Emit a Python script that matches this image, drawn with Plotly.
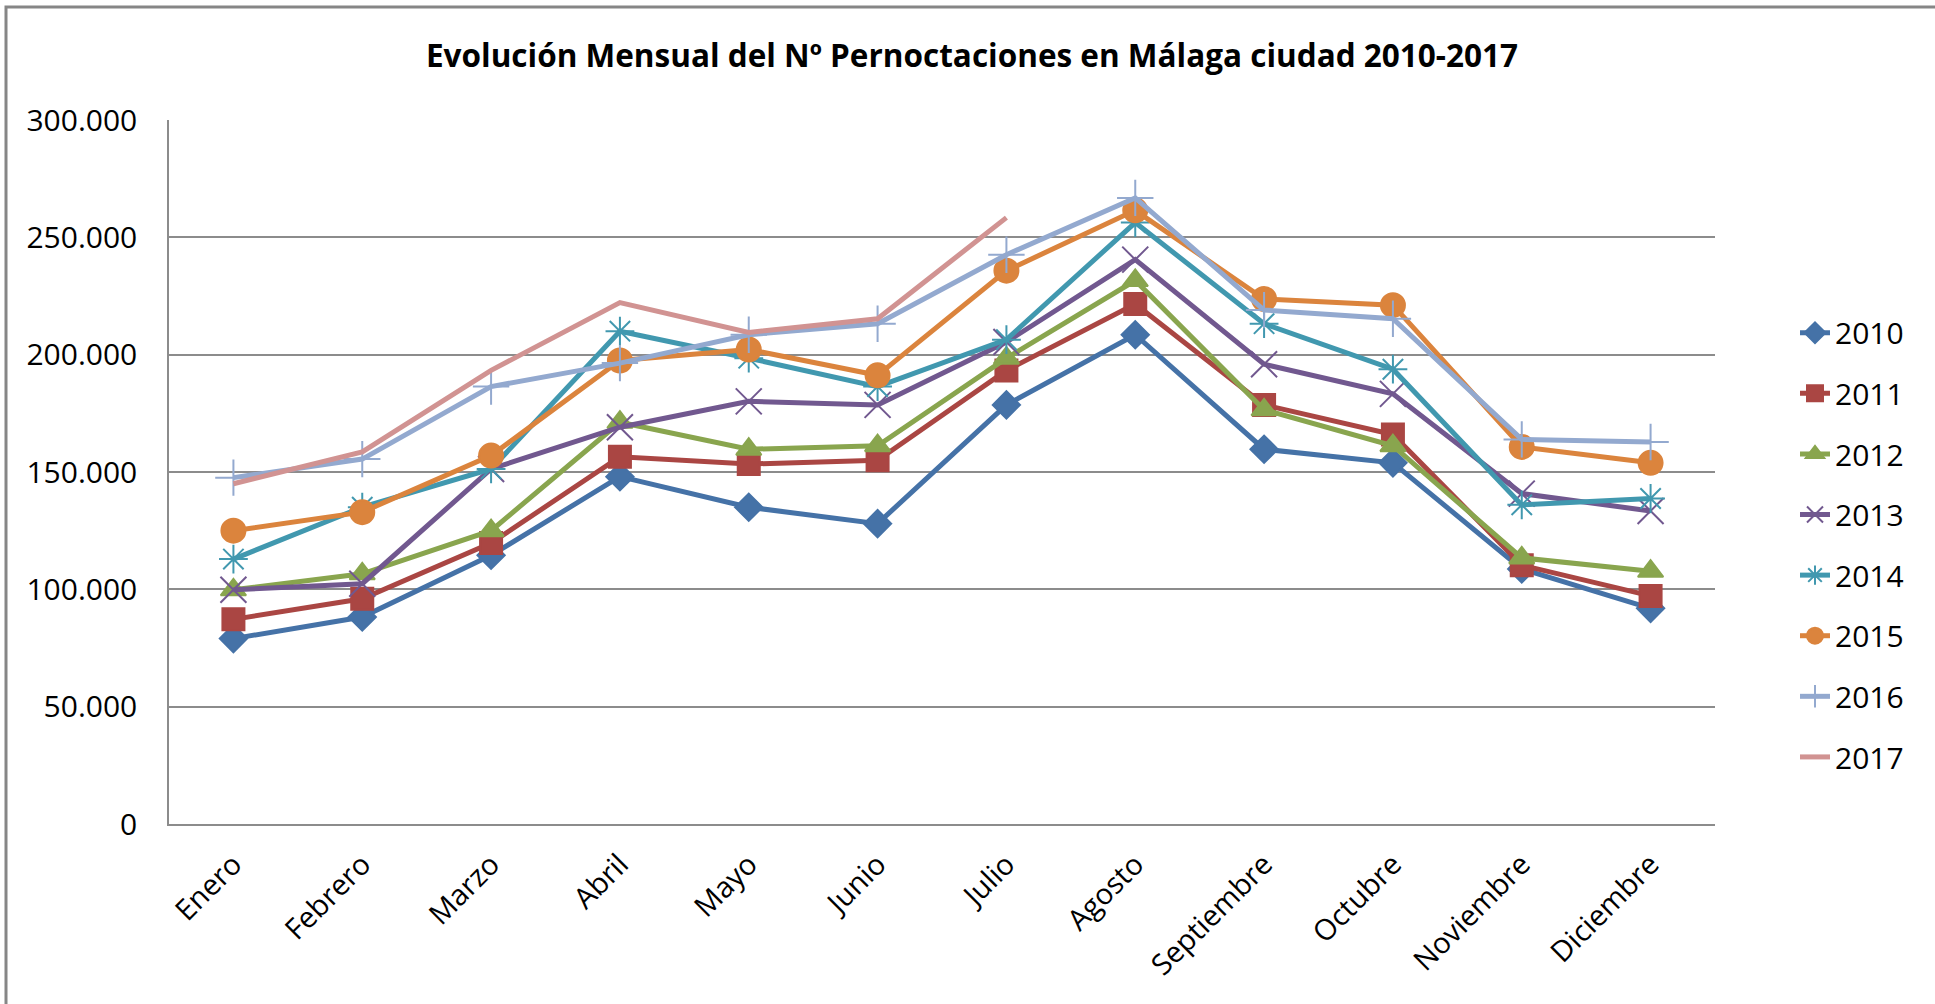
import plotly.graph_objects as go

months = ["Enero", "Febrero", "Marzo", "Abril", "Mayo", "Junio", "Julio",
          "Agosto", "Septiembre", "Octubre", "Noviembre", "Diciembre"]

y2010 = [79000, 88200, 114500, 148000, 135000, 128000, 178600, 208500, 159700, 153900, 108700, 91900]
y2011 = [87200, 96000, 119700, 156500, 153400, 155000, 193300, 221600, 178600, 166000, 110300, 97200]
y2012 = [99800, 106600, 125000, 171200, 159700, 161200, 198500, 231600, 176500, 161200, 113400, 107700]
y2013 = [99800, 102400, 151300, 169100, 180100, 178600, 205400, 240500, 195900, 183300, 140800, 133400]
y2014 = [112900, 135000, 151300, 210000, 198500, 186400, 206400, 256300, 213200, 193800, 136000, 138700]
y2015 = [125000, 132900, 157000, 197500, 202200, 191200, 235800, 261500, 223700, 221100, 160700, 153900]
y2016 = [147600, 155500, 186400, 196400, 208500, 213200, 242600, 266800, 219000, 215300, 163900, 162800]
y2017 = [145000, 158600, 193300, 222200, 209500, 215300, 258400]

years = ["2010", "2011", "2012", "2013", "2014", "2015", "2016", "2017"]
values = [y2010, y2011, y2012, y2013, y2014, y2015, y2016, y2017]
colors = ["#4572A7", "#AA4643", "#89A54E", "#71588F", "#4198AF", "#DB843D", "#93A9CF", "#D19392"]
symbols = ["diamond", "square", "triangle-up", "x-thin", "asterisk-open", "circle", "cross-thin", None]
sizes = [21, 22, 22, 26, 24, 24, 26, 0]

ytickvals = [0, 50000, 100000, 150000, 200000, 250000, 300000]

FONT = "Open Sans"
W, H = 1935, 1004
ML, MR, MT, MB = 169, 220, 120, 180
PW = W - ML - MR
PH = H - MT - MB

fig = go.Figure()
for name, vals, col, sym, sz in zip(years, values, colors, symbols, sizes):
    if sym is None:
        mode = "lines"
        marker = None
    else:
        mode = "lines+markers"
        marker = dict(symbol=sym, size=sz, color=col,
                      line=dict(color=col, width=2))
    fig.add_trace(go.Scatter(
        x=months[:len(vals)], y=vals, name=name, mode=mode,
        line=dict(color=col, width=5), marker=marker,
        legendgroup=name,
    ))

fig.update_layout(
    width=W, height=H,
    paper_bgcolor="white", plot_bgcolor="white",
    margin=dict(l=ML, r=MR, t=MT, b=MB),
    separators=",.",
    font=dict(family=FONT, size=29, color="#000000"),
    title=dict(text="<b>Evolución Mensual del Nº Pernoctaciones en Málaga ciudad 2010-2017</b>",
               x=972 / W, xanchor="center", xref="container",
               y=1 - 56 / H, yanchor="middle", yref="container",
               font=dict(family=FONT, size=31.5, color="#000000")),
    xaxis=dict(type="category", categoryorder="array", categoryarray=months,
               range=[-0.5, 11.5], tickangle=-45, showgrid=False,
               showline=True, linecolor="#8c8c8c", linewidth=1.5,
               ticks="", ticklabelstandoff=10, tickfont=dict(size=29)),
    yaxis=dict(range=[0, 300000], tickvals=ytickvals, tickformat=",.0f",
               showgrid=True, gridcolor="#8c8c8c", gridwidth=1.5,
               showline=True, linecolor="#8c8c8c", linewidth=1.5,
               zeroline=False, ticks="", ticklen=0, ticklabelstandoff=24,
               tickfont=dict(size=30)),
    legend=dict(x=(1795 - ML) / PW, xanchor="left", y=0.396, yanchor="middle",
                font=dict(family=FONT, size=30, color="#000000"),
                tracegroupgap=18.6, traceorder="grouped",
                bgcolor="rgba(0,0,0,0)"),
    showlegend=True,
)

# outer chart frame
fig.add_shape(type="rect", xref="paper", yref="paper",
              x0=(6 - ML) / PW, x1=(W + 10 - ML) / PW,
              y0=(H - MB - (H + 10)) / PH, y1=(H - MB - 7) / PH,
              line=dict(color="#868686", width=3), fillcolor="rgba(0,0,0,0)",
              layer="below")

fig.write_html("out.html",
               config={"displayModeBar": False},
               post_script="document.body.style.margin='0';document.body.style.overflow='hidden';")
